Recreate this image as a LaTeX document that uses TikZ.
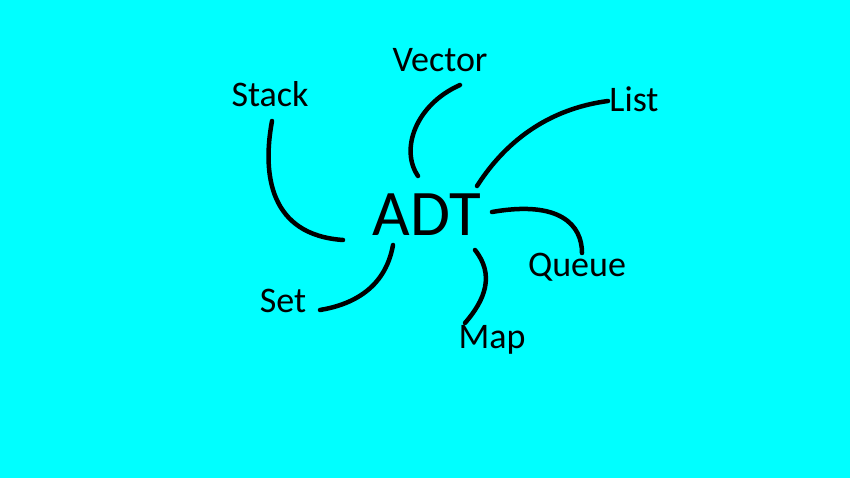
\documentclass[tikz,border=0pt]{standalone}
\usepackage{fontspec}
\setmainfont{Carlito}
\definecolor{bgcyan}{RGB}{0,255,255}

\tikzset{
    adt/.style={
        inner sep=0pt,
        anchor=base,
        font=\fontsize{65}{70}\selectfont
    },
    kind/.style={
        inner sep=0pt,
        anchor=base,
        font=\fontsize{36}{40}\selectfont
    },
    link/.style={
        line width=4.5pt,
        line cap=round,
        draw=black
    }
}

\begin{document}
\begin{tikzpicture}[x=1pt,y=-1pt]

    % Hintergrund
    \fill[bgcyan] (0,0) rectangle (850,478);
    \useasboundingbox (0,0) rectangle (850,478);

    % Mitte und Datentypen
    \path
        node[adt]  at (427,235) (adt)    {ADT}
        node[kind] at (270,107) (stack)  {Stack}
        node[kind] at (440, 72) (vector) {Vector}
        node[kind] at (634,112) (list)   {List}
        node[kind] at (577,276) (queue)  {Queue}
        node[kind] at (492,348) (map)    {Map}
        node[kind] at (283,312) (set)    {Set};

    % Enden der Linien
    \coordinate (stack-a)  at (272,121);
    \coordinate (stack-b)  at (343,240);
    \coordinate (vector-a) at (460, 85);
    \coordinate (vector-b) at (418,176);
    \coordinate (list-a)   at (608,101);
    \coordinate (list-b)   at (477,186);
    \coordinate (queue-a)  at (582,253);
    \coordinate (queue-b)  at (492,212);
    \coordinate (map-a)    at (465,323);
    \coordinate (map-b)    at (475,250);
    \coordinate (set-a)    at (320,310);
    \coordinate (set-b)    at (393,245);

    % Handgezeichnete Verbindungen
    \draw[link] (stack-a)  .. controls (262,175) and (270,235) .. (stack-b);
    \draw[link] (vector-a) .. controls (415,105) and (400,150) .. (vector-b);
    \draw[link] (list-a)   .. controls (540,110) and (500,150) .. (list-b);
    \draw[link] (queue-b)  .. controls (560,200) and (582,225) .. (queue-a);
    \draw[link] (map-b)    .. controls (495,275) and (485,300) .. (map-a);
    \draw[link] (set-b)    .. controls (385,290) and (350,305) .. (set-a);
\end{tikzpicture}
\end{document}
